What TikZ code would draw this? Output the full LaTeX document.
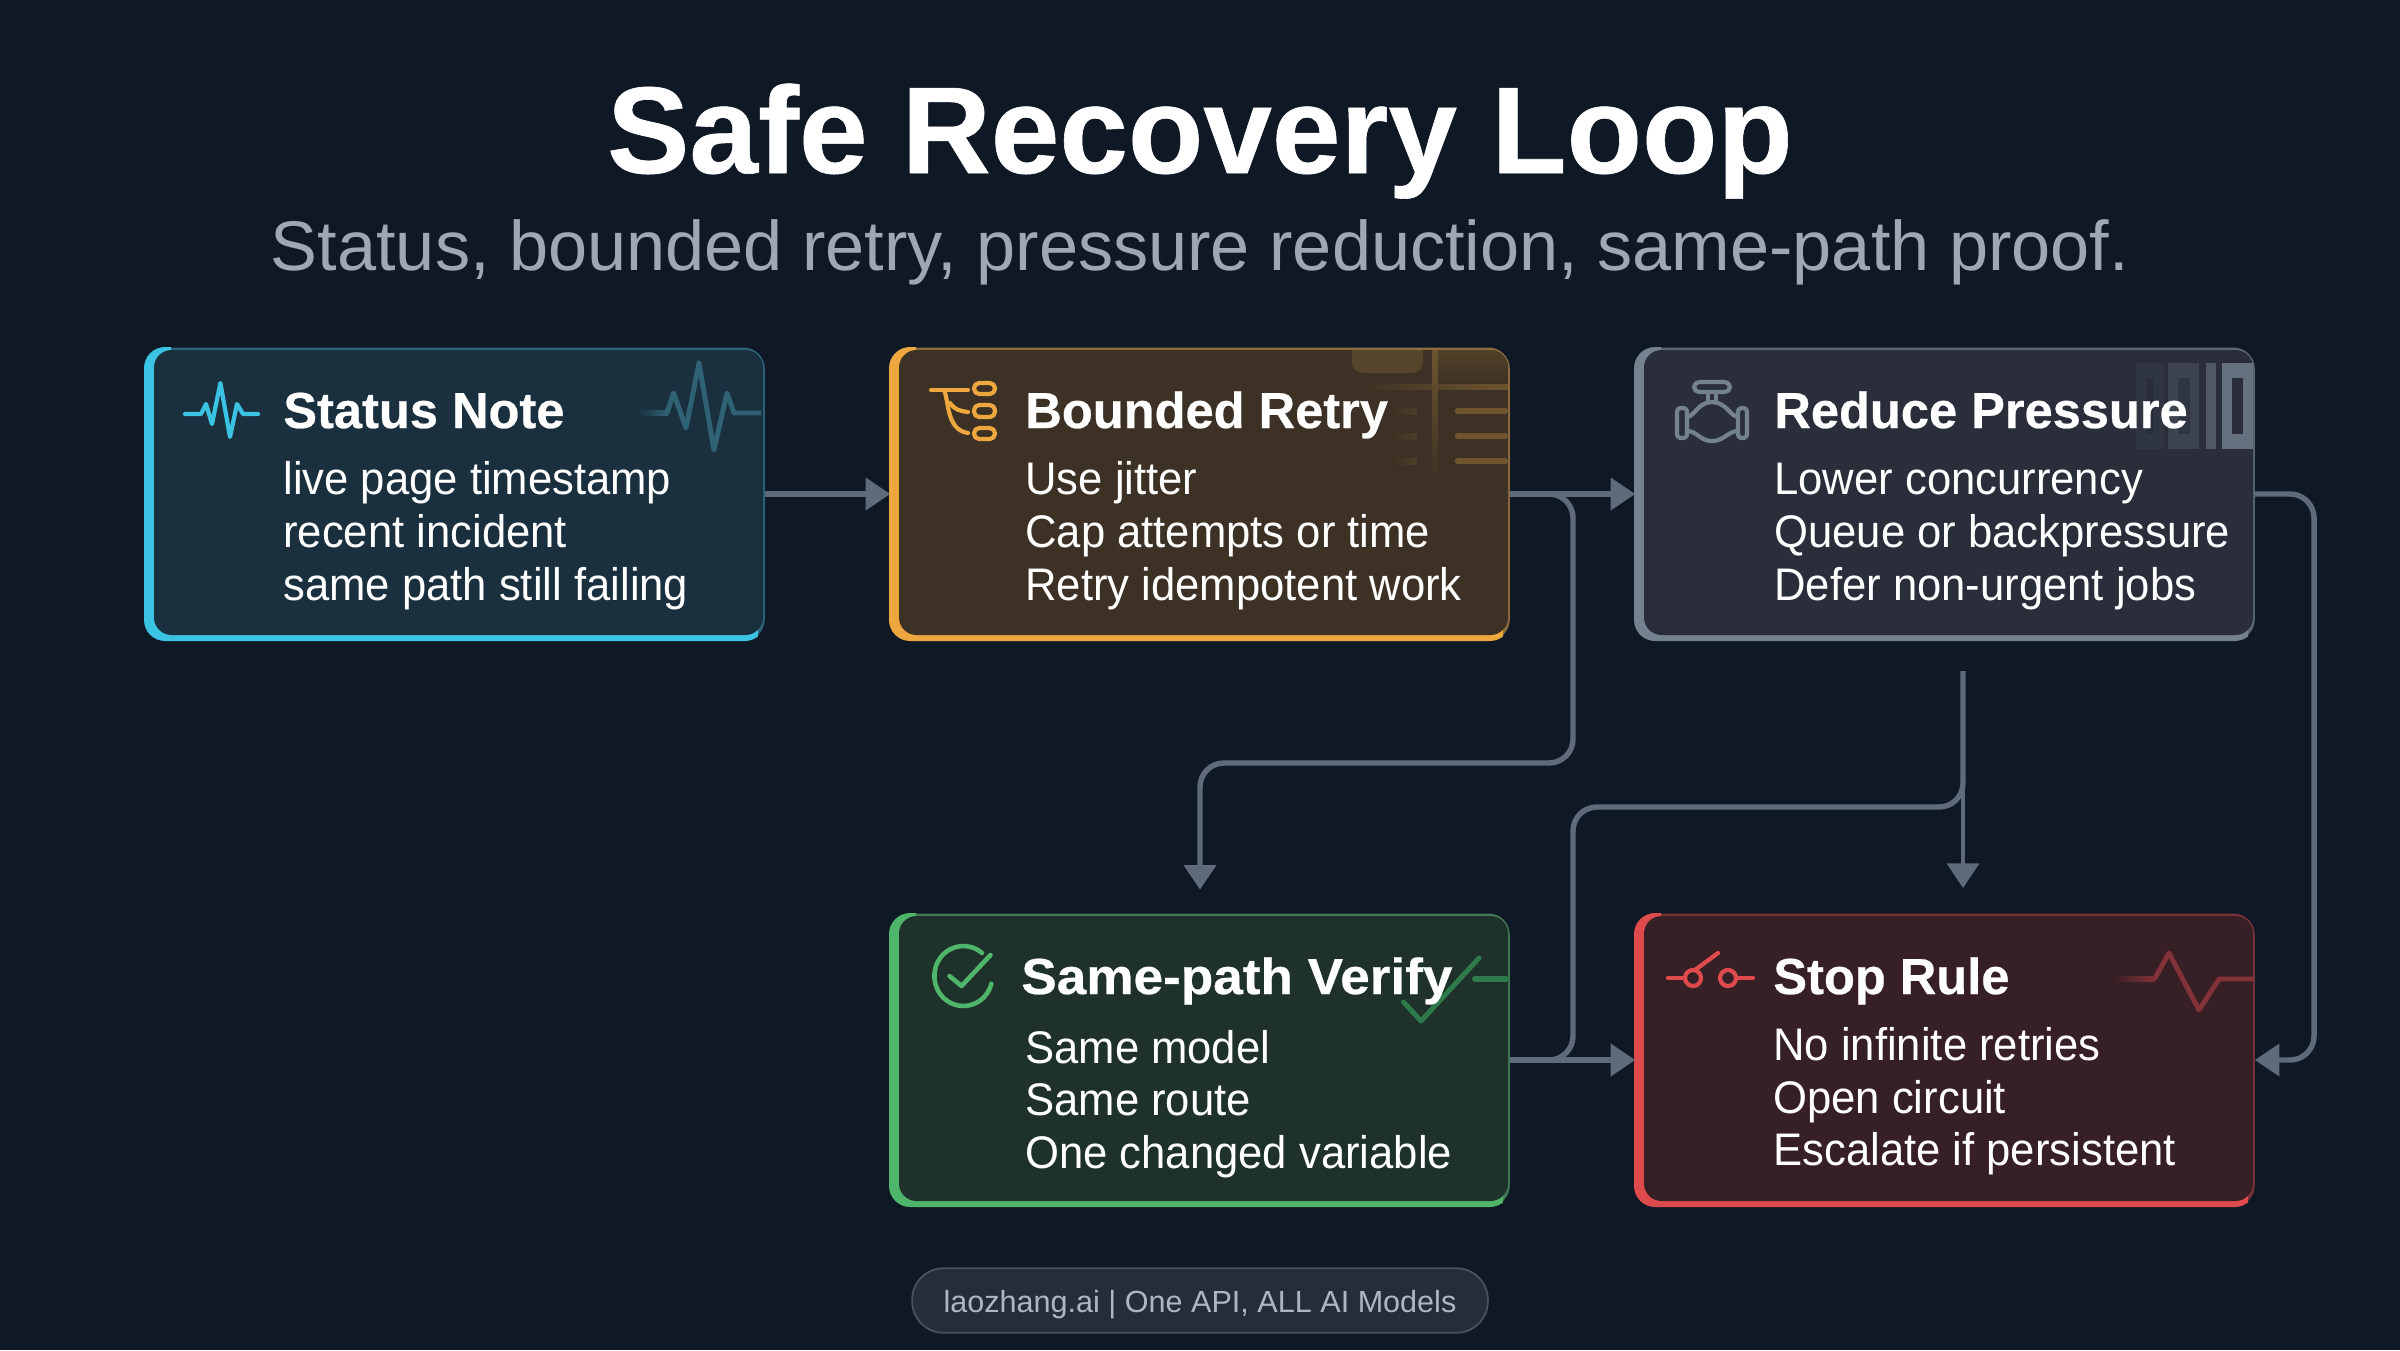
\documentclass[tikz,border=0pt]{standalone}
\usepackage{fontspec}
\usepackage{graphicx}
\setmainfont{Liberation Sans}
\newfontfamily\bodyf[FakeStretch=0.955]{Liberation Sans}
\newfontfamily\headf[UprightFont=* Bold,FakeBold=0.5]{Liberation Sans}
\usetikzlibrary{arrows.meta}
\definecolor{bgc}{HTML}{0F1825}
\definecolor{linec}{HTML}{5F6B7A}
\definecolor{subc}{HTML}{A0A7B2}
\definecolor{footc}{HTML}{AFB6C3}
\definecolor{pillf}{HTML}{262C3A}
\definecolor{pilld}{HTML}{4A5260}
\definecolor{cyA}{HTML}{3BC3E3}\definecolor{cyM}{HTML}{2D6479}\definecolor{cyF}{HTML}{1B303E}\definecolor{cyW}{HTML}{2F6274}
\definecolor{orA}{HTML}{EEA63E}\definecolor{orM}{HTML}{8A6C3E}\definecolor{orF}{HTML}{3C3124}\definecolor{orW}{HTML}{6E5530}
\definecolor{grA}{HTML}{74828F}\definecolor{grM}{HTML}{5C6673}\definecolor{grF}{HTML}{292E3A}
\definecolor{gnA}{HTML}{4FB56A}\definecolor{gnM}{HTML}{3F7A55}\definecolor{gnF}{HTML}{1E322B}\definecolor{gnW}{HTML}{2F7A4A}
\definecolor{rdA}{HTML}{DF4A4C}\definecolor{rdM}{HTML}{7A3338}\definecolor{rdF}{HTML}{371F26}\definecolor{rdW}{HTML}{823238}
\tikzset{
  cardnode/.style={rectangle,minimum width=352.6pt,minimum height=166.7pt,inner sep=0pt,outer sep=0pt,rounded corners=12pt},
  ctitle/.style={anchor=base west,inner sep=0pt,text=white,font=\fontsize{28.8pt}{34pt}\headf},
  cbody/.style={anchor=base west,inner sep=0pt,text=white,font=\fontsize{26pt}{31pt}\bodyf},
  conn/.style={draw=linec,line width=3.1pt,rounded corners=13.6pt,-{Triangle[length=14pt,width=18pt]}},
  connplain/.style={draw=linec,line width=3.1pt,rounded corners=13.6pt},
  icon/.style={line width=2.4pt,line cap=round,line join=round},
  wmark/.style={line width=2.8pt,line join=round}
}
\newcommand{\cardbg}[6]{%
  \node[cardnode,fill=#5] (#1) at (#2,#3) {};
  \begin{scope}[shift={(#2,#3)}]
    \begin{scope}
      \clip (-311,-147) rectangle (-284,147) (-311,120) rectangle (303,147);
      \fill[#4,rounded corners=12pt] (-311,-147) rectangle (311,147);
    \end{scope}
    \fill[#6,rounded corners=10pt] (-301,-144) rectangle (308,141);
  \end{scope}}
\begin{document}
\begin{tikzpicture}[x=0.02cm,y=-0.02cm]
\useasboundingbox (0,0) rectangle (2400,1350);
\fill[bgc] (0,0) rectangle (2400,1350);

\node[anchor=base,inner sep=0pt,text=white,font=\fontsize{70.2pt}{80pt}\headf] (title) at (1200,173) {Safe Recovery Loop};
\node[anchor=base,inner sep=0pt,text=subc,font=\fontsize{40pt}{46pt}\selectfont] (subtitle) at (1200,270) {Status, bounded retry, pressure reduction, same-path proof.};

% cards
\cardbg{n1}{455}{494}{cyA}{cyM}{cyF}
\cardbg{n2}{1200}{494}{orA}{orM}{orF}
\cardbg{n3}{1945}{494}{grA}{grM}{grF}
\cardbg{n4}{1200}{1060}{gnA}{gnM}{gnF}
\cardbg{n5}{1945}{1060}{rdA}{rdM}{rdF}

% watermark 1
\shade[left color=cyF,right color=cyW] (638,410.5) rectangle (668,415.5);
\draw[wmark,cyW] (667,413)--(673.6,393)--(686,428)--(699,363)--(714,450)--(727,393)--(734,413)--(761,413);
% watermark 2
\begin{scope}
\clip[rounded corners=10pt] (899,350) rectangle (1508,635);
\fill[orW!55!orF,rounded corners=6pt] (1352,340) -- (1423,340) -- (1423,373) -- (1352,373) -- cycle;
\shade[top color=orW!45!orF,bottom color=orF] (1438,349) rectangle (1508,385);
\shade[left color=orF,right color=orW] (1360,384.5) rectangle (1508,389.5);
\shade[top color=orW,bottom color=orF] (1432.5,349) rectangle (1437.5,480);
\foreach \yy in {411,436,461}{
  \fill[orW,rounded corners=1.5pt] (1455,\yy-3) rectangle (1508,\yy+3);
  \shade[left color=orF,right color=orW!35!orF] (1392,\yy-3) rectangle (1417,\yy+3);
}
\end{scope}
% watermark 3
\begin{scope}
\clip[rounded corners=10pt] (1644,350) rectangle (2253,635);
\fill[grF!92!grA] (2136,363) rectangle (2164,449);
\fill[grF] (2147,378) rectangle (2154,434);
\fill[grF!75!grA] (2168,363) rectangle (2199,449);
\fill[grF!92!grA] (2178,378) rectangle (2190,434);
\fill[grF!50!grA] (2206,363) rectangle (2216,449);
\fill[grA!80!grF] (2222,363) rectangle (2256,449);
\fill[grF] (2232,378) rectangle (2243,434);
\end{scope}
% watermark 4
\draw[wmark,gnW,line cap=round] (1403.5,1002)--(1421,1021)--(1479,958);
\draw[wmark,gnW,line width=3.4pt,line cap=round] (1475,979)--(1506,979);
% watermark 5
\shade[left color=rdF,right color=rdW] (2112,976.5) rectangle (2155,981.5);
\draw[wmark,rdW] (2154.5,979)--(2169,953)--(2199,1010)--(2219,979)--(2254,979);

% icons
\draw[icon,cyA] (185,414)--(201,414)--(206,404)--(212,424)--(220.4,383)--(230,437)--(237,404)--(243,414)--(258,414);
\begin{scope}[icon,orA]
  \draw[rounded corners=3pt] (974,383) rectangle (995,394);
  \draw[rounded corners=3pt] (974,405) rectangle (995,417);
  \draw[rounded corners=3pt] (974,428) rectangle (995,439);
  \draw (931,390)--(968,390);
  \draw (944,390) .. controls (949,400) and (946,430) .. (968,433);
  \draw (950,403) .. controls (955,410) and (960,411) .. (968,412);
\end{scope}
\begin{scope}[icon,grA]
  \draw[rounded corners=3pt] (1694,382) rectangle (1730,392);
  \draw (1708,392)--(1708,402) (1716,392)--(1716,402);
  \draw[rounded corners=2pt] (1677,408) rectangle (1687,438);
  \draw[rounded corners=2pt] (1738,408) rectangle (1747,438);
  \draw (1687,417) .. controls (1695,416) and (1698,402) .. (1712,402) .. controls (1726,402) and (1730,416) .. (1738,417);
  \draw (1687,431) .. controls (1697,431) and (1700,441) .. (1712,441) .. controls (1724,441) and (1728,431) .. (1738,431);
\end{scope}
\begin{scope}[icon,gnA,line width=2.6pt]
  \draw (982,953) arc[x radius=29,y radius=30,start angle=-50,end angle=-345];
  \draw (949.5,976)--(961.5,986)--(990.5,955);
\end{scope}
\begin{scope}[icon,rdA]
  \draw (1668,978)--(1684,978) (1737,978)--(1753,978);
  \draw (1693,978) circle[radius=8];
  \draw (1728,978) circle[radius=8];
  \draw (1695,970)--(1718,953);
\end{scope}

% texts
\node[ctitle] (t1) at (283,428) {Status Note};
\node[cbody] (a1) at (283,494) {live page timestamp};
\node[cbody] (a2) at (283,547) {recent incident};
\node[cbody] (a3) at (283,600) {same path still failing};
\node[ctitle] (t2) at (1025,428) {Bounded Retry};
\node[cbody] (b1) at (1025,494) {Use jitter};
\node[cbody] (b2) at (1025,547) {Cap attempts or time};
\node[cbody] (b3) at (1025,600) {Retry idempotent work};
\node[ctitle] (t3) at (1774,428) {Reduce Pressure};
\node[cbody] (c1) at (1774,494) {Lower concurrency};
\node[cbody] (c2) at (1774,547) {Queue or backpressure};
\node[cbody] (c3) at (1774,600) {Defer non-urgent jobs};
\node[ctitle] (t4) at (1021,994) {\scalebox{1.05}[1]{Same-path Verify}};
\node[cbody] (d1) at (1025,1063) {Same model};
\node[cbody] (d2) at (1025,1115) {Same route};
\node[cbody] (d3) at (1025,1168) {One changed variable};
\node[ctitle] (t5) at (1773,994) {Stop Rule};
\node[cbody] (e1) at (1773,1060) {No infinite retries};
\node[cbody] (e2) at (1773,1113) {Open circuit};
\node[cbody] (e3) at (1773,1165) {Escalate if persistent};

% connectors
\coordinate (j1) at (1573,763);
\coordinate (j2) at (1573,807);
\coordinate (s0) at (1963,671);
\coordinate (s1) at (1963,888);
\coordinate (j3) at (2314,1060);
\draw[conn,shorten >=13.6pt] (n2.east) -| (j1) -| (n4.north);
\draw[conn] (n1.east) -- (n2.west);
\draw[conn] (n2.east) -- (n3.west);
\draw[connplain] (n4.east) -| (j2) -| (s0);
\draw[conn] (n4.east) -- (n5.west);
\draw[conn,line width=2.6pt] (s0) -- (s1);
\draw[conn] (n3.east) -| (j3) -- (n5.east);

% footer
\node[draw=pilld,fill=pillf,line width=1pt,rounded corners=18pt,minimum width=327.7pt,minimum height=36.8pt,inner sep=0pt] (foot) at (1200,1300.5) {};
\node[anchor=base,inner sep=0pt,text=footc,font=\fontsize{17.4pt}{21pt}\selectfont] (foottext) at (1200,1312) {laozhang.ai | One API, ALL AI Models};
\end{tikzpicture}
\end{document}
